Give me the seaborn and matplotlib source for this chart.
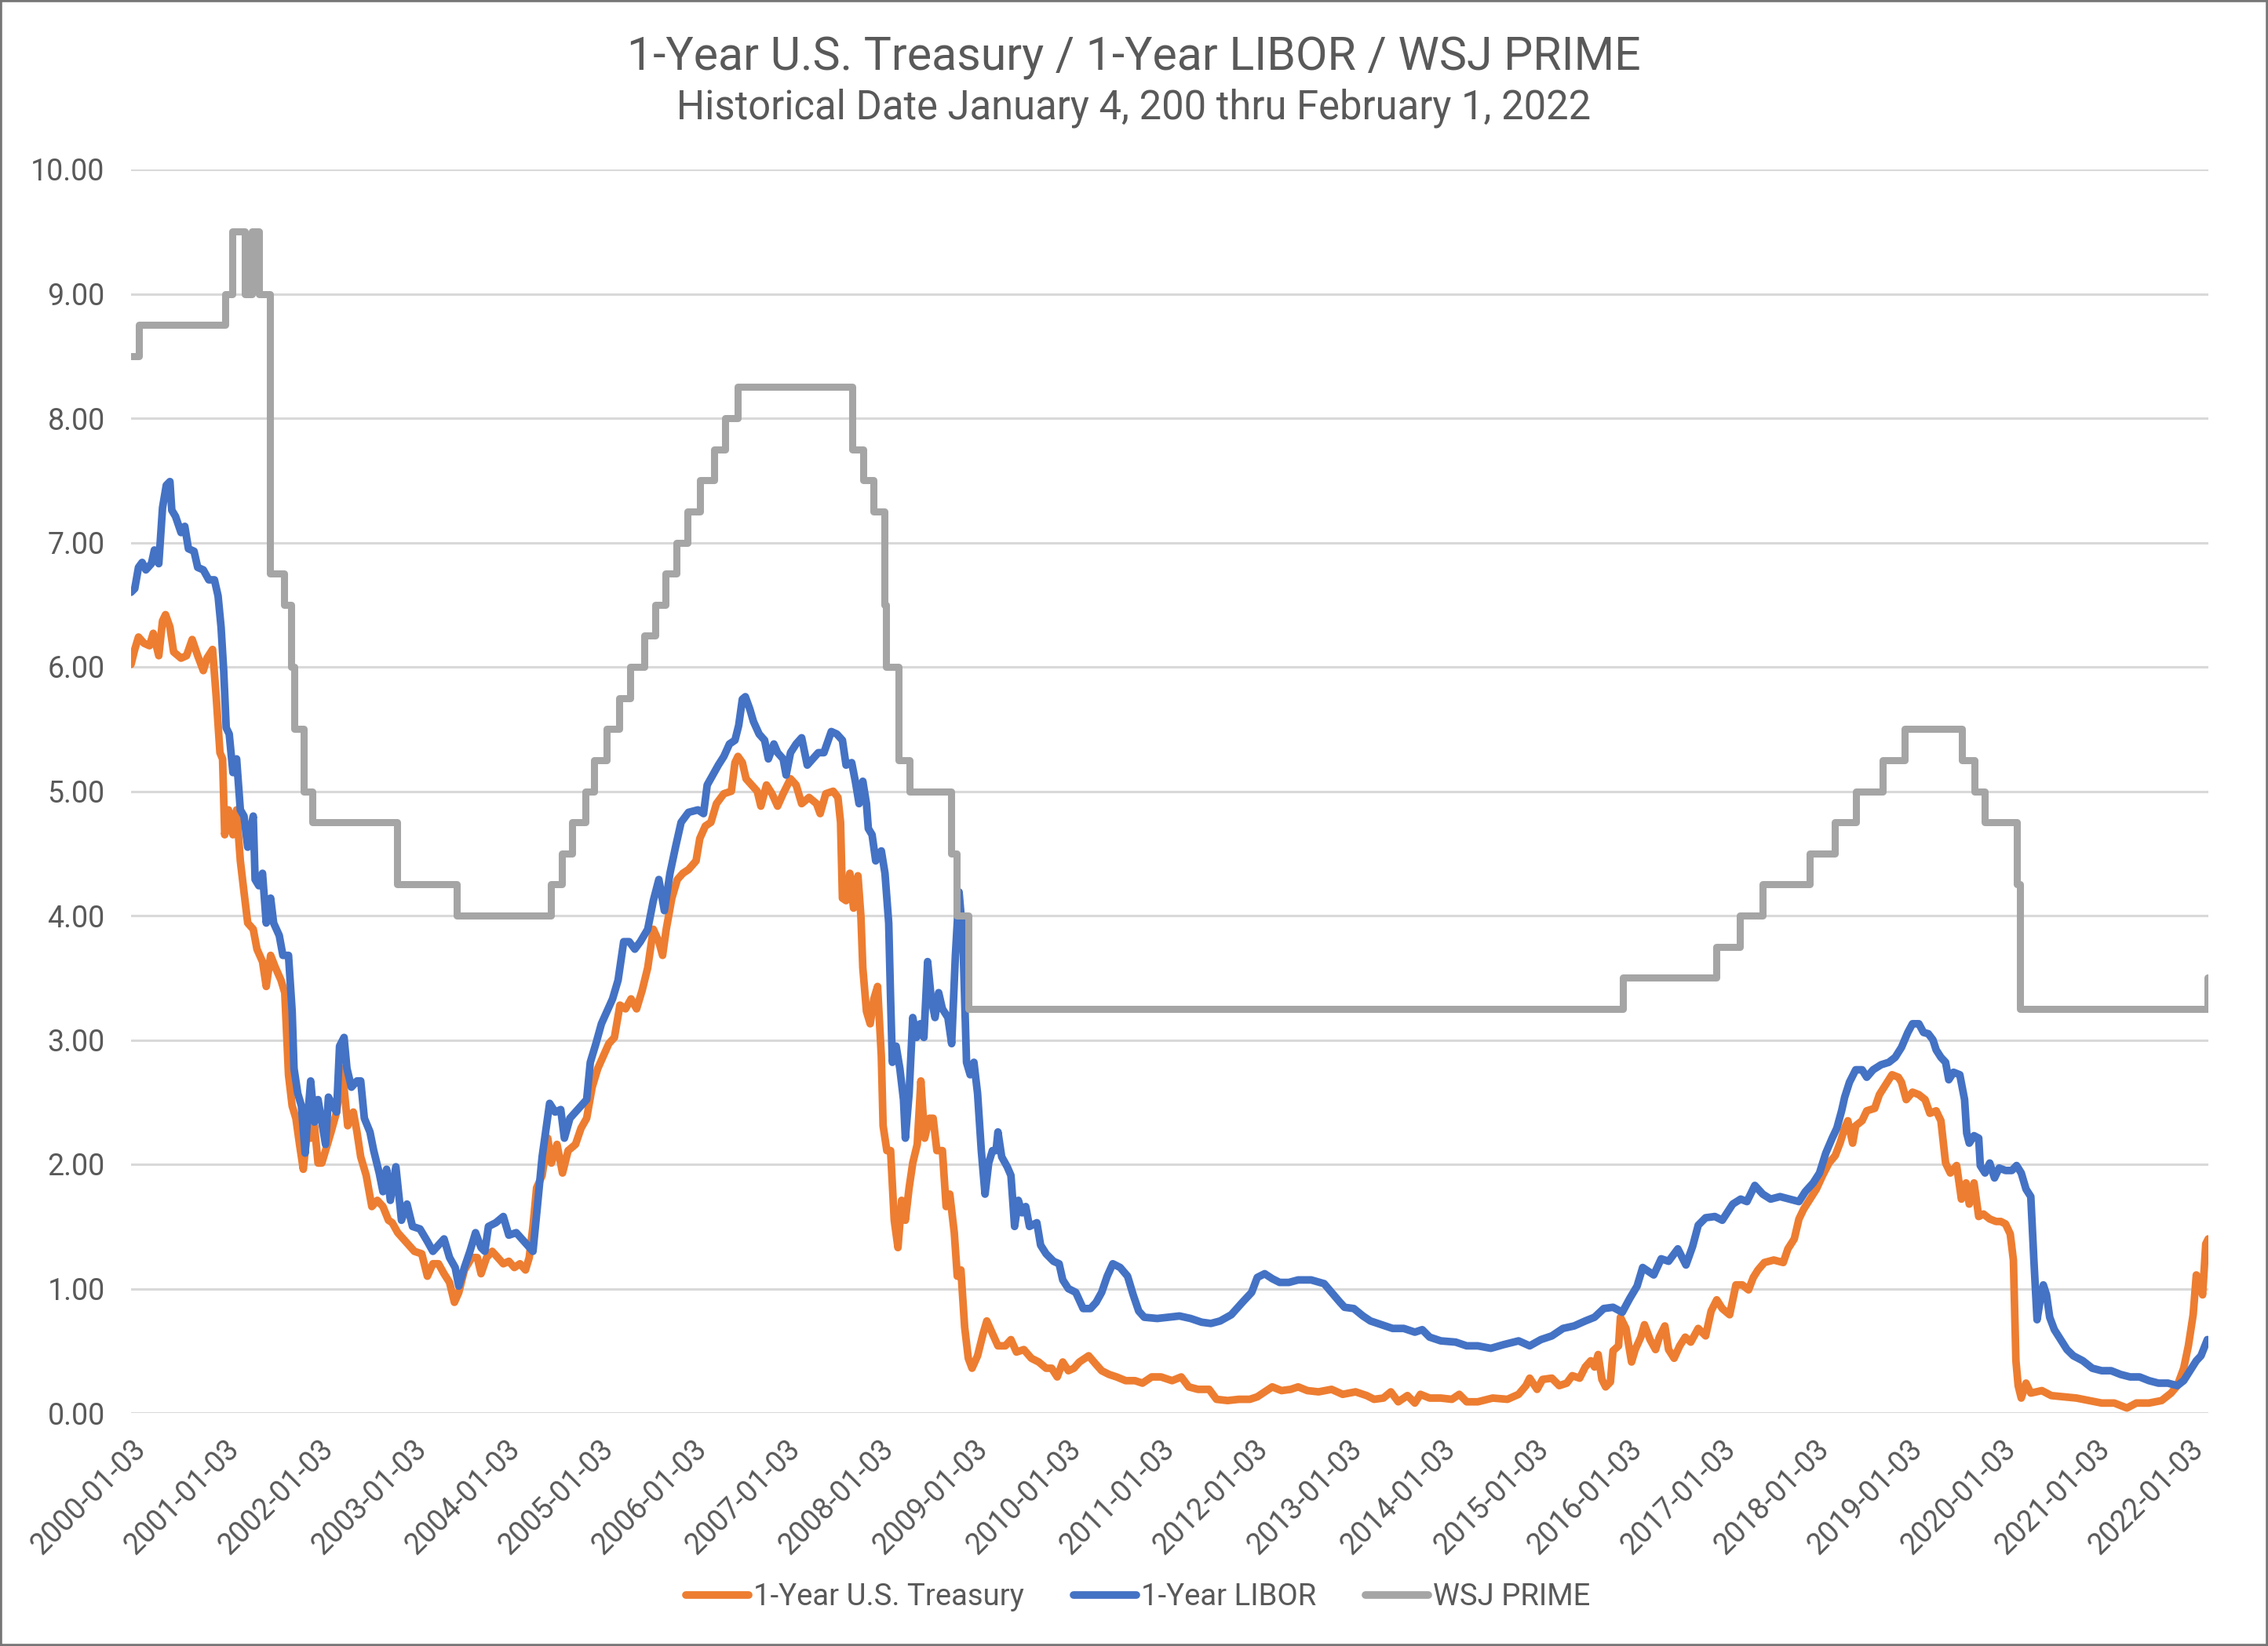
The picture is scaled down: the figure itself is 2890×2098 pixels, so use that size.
import numpy as np
import pandas as pd
import matplotlib
matplotlib.use("Agg")
import matplotlib.pyplot as plt
import seaborn as sns
from matplotlib.patches import Rectangle

TITLE = "1-Year U.S. Treasury / 1-Year LIBOR / WSJ PRIME"
SUBTITLE = "Historical Date January 4, 200 thru February 1, 2022"
SERIES_NAMES = ["1-Year U.S. Treasury", "1-Year LIBOR", "WSJ PRIME"]
SERIES_COLORS = ["#ED7D31", "#4472C4", "#A5A5A5"]
TICK_YEARS = list(range(2000, 2023))
Y_TICKS = [0, 1, 2, 3, 4, 5, 6, 7, 8, 9, 10]

# decimal years since 2000-01-01
TSY_YEARS = [
    0.005, 0.045, 0.085, 0.144, 0.203, 0.243, 0.302, 0.342, 0.374, 0.421, 0.461, 0.540, 0.599, 0.659, 0.718,
    0.778, 0.817, 0.877, 0.916, 0.956, 0.984, 1.007, 1.047, 1.095, 1.134, 1.174, 1.213, 1.253, 1.312, 1.352,
    1.411, 1.451, 1.498, 1.550, 1.609, 1.649, 1.689, 1.728, 1.768, 1.807, 1.847, 1.887, 1.926, 1.966, 2.005,
    2.045, 2.085, 2.144, 2.203, 2.263, 2.322, 2.382, 2.421, 2.461, 2.520, 2.580, 2.639, 2.699, 2.758, 2.798,
    2.857, 2.916, 2.976, 3.035, 3.114, 3.174, 3.233, 3.293, 3.352, 3.411, 3.463, 3.510, 3.570, 3.649, 3.708,
    3.748, 3.807, 3.867, 3.926, 3.986, 4.045, 4.104, 4.164, 4.223, 4.263, 4.303, 4.342, 4.401, 4.461, 4.500,
    4.560, 4.619, 4.679, 4.758, 4.817, 4.877, 4.936, 4.996, 5.055, 5.114, 5.174, 5.233, 5.293, 5.352, 5.411,
    5.471, 5.530, 5.590, 5.649, 5.689, 5.728, 5.788, 5.847, 5.906, 5.966,
    6.047, 6.087, 6.146, 6.206, 6.265, 6.344, 6.424, 6.463, 6.495, 6.542, 6.582, 6.641, 6.701, 6.740, 6.800,
    6.859, 6.919, 6.978, 7.057, 7.117, 7.176, 7.255, 7.335, 7.374, 7.434, 7.513, 7.564, 7.592, 7.612, 7.651,
    7.691, 7.731, 7.778, 7.810, 7.830, 7.869, 7.909, 7.948, 7.988, 8.028, 8.047, 8.087, 8.127, 8.166, 8.206,
    8.245, 8.285, 8.325, 8.364, 8.412, 8.451, 8.491, 8.542, 8.582, 8.622, 8.681, 8.721, 8.760, 8.808, 8.840,
    8.879, 8.919, 8.958, 8.998, 9.057, 9.117, 9.156, 9.216, 9.275, 9.354, 9.414, 9.473, 9.552, 9.632, 9.711,
    9.790, 9.849, 9.909, 9.968, 10.028, 10.087, 10.146, 10.245, 10.325, 10.384, 10.463, 10.543, 10.641, 10.740,
    10.820, 10.919, 11.018, 11.137, 11.235, 11.315, 11.414, 11.533, 11.612, 11.731, 11.850, 11.968, 12.048,
    12.208, 12.307, 12.406, 12.485, 12.584, 12.703, 12.842, 12.961, 13.099, 13.218, 13.297, 13.396, 13.476,
    13.555, 13.654, 13.733, 13.792, 13.891, 14.010, 14.129, 14.208, 14.287, 14.406, 14.565, 14.723, 14.842,
    14.921, 14.961, 15.040, 15.099, 15.198, 15.277, 15.357, 15.416, 15.495, 15.555, 15.614, 15.654, 15.693,
    15.733, 15.773, 15.824, 15.852, 15.911, 15.931, 15.990, 16.050, 16.089, 16.149, 16.188, 16.248, 16.307,
    16.347, 16.406, 16.446, 16.505, 16.565, 16.624, 16.683, 16.763, 16.842, 16.901, 16.961, 17.020, 17.099,
    17.166, 17.234, 17.301, 17.352, 17.402, 17.470, 17.571, 17.672, 17.722, 17.790, 17.840, 17.891, 17.958,
    18.026, 18.093, 18.161, 18.228, 18.279, 18.329, 18.363, 18.414, 18.447, 18.515, 18.565, 18.650, 18.700,
    18.768, 18.835, 18.903, 18.936, 18.987, 19.054, 19.122, 19.189, 19.240, 19.307, 19.358, 19.408, 19.459,
    19.526, 19.577, 19.627, 19.661, 19.712, 19.762, 19.813, 19.880, 19.948, 19.998, 20.049, 20.099, 20.133,
    20.160, 20.184, 20.217, 20.268, 20.319, 20.437, 20.538, 20.673, 20.808, 20.942, 21.077, 21.212, 21.347,
    21.448, 21.583, 21.718, 21.819, 21.886, 21.954, 22.004, 22.055, 22.089, 22.122, 22.156, 22.190, 22.217,
]
TSY_VALUES = [
    6.02, 6.14, 6.24, 6.19, 6.17, 6.27, 6.09, 6.37, 6.42, 6.32, 6.12, 6.07, 6.09, 6.22, 6.09,
    5.97, 6.07, 6.14, 5.76, 5.31, 5.26, 4.65, 4.85, 4.65, 4.85, 4.44, 4.19, 3.94, 3.89, 3.73,
    3.63, 3.43, 3.68, 3.58, 3.48, 3.38, 2.72, 2.47, 2.37, 2.16, 1.96, 2.26, 2.21, 2.31, 2.01,
    2.01, 2.11, 2.26, 2.42, 2.77, 2.31, 2.42, 2.26, 2.06, 1.91, 1.66, 1.71, 1.66, 1.55, 1.53,
    1.45, 1.40, 1.35, 1.30, 1.28, 1.10, 1.20, 1.20, 1.12, 1.05, 0.89, 0.97, 1.15, 1.25, 1.25,
    1.12, 1.25, 1.30, 1.25, 1.20, 1.22, 1.17, 1.20, 1.15, 1.25, 1.50, 1.81, 1.91, 2.21, 2.01,
    2.16, 1.93, 2.11, 2.16, 2.29, 2.37, 2.62, 2.77, 2.87, 2.97, 3.02, 3.28, 3.25, 3.33, 3.25,
    3.40, 3.58, 3.89, 3.79, 3.68, 3.89, 4.14, 4.29, 4.34, 4.37,
    4.44, 4.62, 4.72, 4.75, 4.90, 4.98, 5.00, 5.23, 5.28, 5.23, 5.10, 5.05, 5.00, 4.88, 5.05,
    4.98, 4.88, 4.98, 5.10, 5.05, 4.90, 4.95, 4.90, 4.82, 4.98, 5.00, 4.95, 4.75, 4.14, 4.12,
    4.34, 4.06, 4.32, 3.99, 3.58, 3.23, 3.13, 3.33, 3.43, 2.87, 2.31, 2.11, 2.11, 1.55, 1.33,
    1.71, 1.55, 1.81, 2.01, 2.16, 2.67, 2.21, 2.37, 2.37, 2.11, 2.11, 1.66, 1.76, 1.45, 1.10,
    1.15, 0.69, 0.44, 0.36, 0.46, 0.64, 0.74, 0.64, 0.54, 0.54, 0.59, 0.49, 0.51, 0.44, 0.41,
    0.36, 0.36, 0.29, 0.41, 0.34, 0.36, 0.41, 0.46, 0.39, 0.34, 0.31, 0.29, 0.26, 0.26,
    0.24, 0.29, 0.29, 0.26, 0.29, 0.21, 0.19, 0.19, 0.11, 0.10, 0.11, 0.11, 0.13,
    0.21, 0.18, 0.19, 0.21, 0.18, 0.17, 0.19, 0.15, 0.17, 0.14, 0.11, 0.12, 0.17,
    0.09, 0.14, 0.08, 0.15, 0.12, 0.12, 0.11, 0.15, 0.09, 0.09, 0.12, 0.11, 0.15,
    0.22, 0.28, 0.19, 0.27, 0.28, 0.22, 0.24, 0.30, 0.28, 0.37, 0.42, 0.37, 0.47,
    0.27, 0.21, 0.25, 0.50, 0.54, 0.77, 0.68, 0.41, 0.51, 0.61, 0.71, 0.59, 0.51,
    0.61, 0.70, 0.51, 0.44, 0.54, 0.61, 0.57, 0.68, 0.62, 0.82, 0.91, 0.84, 0.79,
    1.03, 1.03, 0.99, 1.09, 1.15, 1.21, 1.23, 1.21, 1.32, 1.40, 1.56, 1.64, 1.72,
    1.80, 1.91, 2.01, 2.07, 2.17, 2.29, 2.35, 2.17, 2.31, 2.35, 2.43, 2.45, 2.56,
    2.64, 2.72, 2.70, 2.66, 2.52, 2.58, 2.56, 2.52, 2.41, 2.43, 2.35, 2.01, 1.93,
    1.99, 1.72, 1.85, 1.68, 1.85, 1.58, 1.60, 1.56, 1.54, 1.54, 1.52, 1.44, 1.23,
    0.42, 0.22, 0.12, 0.24, 0.16, 0.18, 0.14, 0.13, 0.12, 0.10, 0.08, 0.08, 0.04,
    0.08, 0.08, 0.10, 0.16, 0.22, 0.36, 0.54, 0.79, 1.11, 1.07, 0.95, 1.36, 1.40,
]

LIBOR_YEARS = [
    0.005, 0.045, 0.085, 0.124, 0.164, 0.223, 0.255, 0.302, 0.342, 0.382, 0.421, 0.441, 0.481, 0.540, 0.580,
    0.619, 0.679, 0.718, 0.778, 0.837, 0.897, 0.936, 0.968, 0.996, 1.023, 1.055, 1.095, 1.134, 1.174, 1.213,
    1.253, 1.312, 1.332, 1.372, 1.411, 1.451, 1.498, 1.530, 1.590, 1.629, 1.689, 1.728, 1.748, 1.788, 1.827,
    1.867, 1.887, 1.926, 1.966, 2.005, 2.045, 2.085, 2.116, 2.164, 2.203, 2.235, 2.283, 2.314, 2.362, 2.421,
    2.461, 2.500, 2.560, 2.600, 2.659, 2.699, 2.738, 2.778, 2.837, 2.897, 2.956, 3.015, 3.095, 3.174, 3.233,
    3.293, 3.352, 3.411, 3.471, 3.510, 3.570, 3.629, 3.689, 3.748, 3.788, 3.827, 3.906, 3.986, 4.045, 4.124,
    4.184, 4.243, 4.303, 4.350, 4.401, 4.481, 4.540, 4.600, 4.639, 4.698, 4.758, 4.817, 4.877, 4.916, 4.976,
    5.035, 5.095, 5.154, 5.213, 5.273, 5.332, 5.392, 5.451, 5.530, 5.590, 5.649, 5.708, 5.768, 5.827, 5.887,
    5.966, 6.067, 6.127, 6.166, 6.226, 6.285, 6.344, 6.404, 6.463, 6.503, 6.542, 6.574, 6.622, 6.661, 6.721,
    6.780, 6.820, 6.879, 6.919, 6.978, 7.010, 7.057, 7.117, 7.176, 7.236, 7.295, 7.354, 7.414, 7.493, 7.552,
    7.612, 7.651, 7.711, 7.750, 7.790, 7.830, 7.869, 7.889, 7.929, 7.968, 8.028, 8.067, 8.107, 8.127, 8.146,
    8.186, 8.226, 8.265, 8.285, 8.325, 8.364, 8.404, 8.444, 8.483, 8.523, 8.562, 8.602, 8.641, 8.681, 8.740,
    8.780, 8.820, 8.859, 8.899, 8.919, 8.939, 8.978, 9.018, 9.057, 9.097, 9.137, 9.176, 9.216, 9.255, 9.275,
    9.315, 9.374, 9.414, 9.453, 9.493, 9.533, 9.572, 9.612, 9.691, 9.731, 9.790, 9.869, 9.929, 9.968, 10.028,
    10.107, 10.186, 10.265, 10.325, 10.384, 10.443, 10.503, 10.582, 10.661, 10.721, 10.780, 10.839, 10.978,
    11.097, 11.216, 11.335, 11.453, 11.552, 11.651, 11.770, 11.889, 11.988, 12.048, 12.127,
    12.208, 12.287, 12.386, 12.485, 12.624, 12.763, 12.842, 12.921, 12.981, 13.080, 13.178, 13.258, 13.377,
    13.495, 13.614, 13.733, 13.812, 13.891, 14.010, 14.169, 14.287, 14.406, 14.545, 14.683, 14.842, 14.961,
    15.080, 15.198, 15.317, 15.436, 15.555, 15.654, 15.753, 15.852, 15.951, 16.030, 16.109, 16.169, 16.287,
    16.367, 16.446, 16.545, 16.632, 16.703, 16.763, 16.842, 16.941, 17.020, 17.132, 17.217, 17.284, 17.368,
    17.453, 17.537, 17.638, 17.739, 17.840, 17.908, 17.992, 18.060, 18.127, 18.195, 18.245, 18.296, 18.329,
    18.380, 18.447, 18.515, 18.565, 18.633, 18.717, 18.801, 18.869, 18.936, 19.004, 19.054, 19.122, 19.172,
    19.223, 19.273, 19.307, 19.358, 19.408, 19.442, 19.493, 19.560, 19.611, 19.634, 19.661, 19.712, 19.762,
    19.779, 19.830, 19.880, 19.931, 19.981, 20.049, 20.116, 20.167, 20.217, 20.268, 20.319, 20.352, 20.386,
    20.420, 20.453, 20.487, 20.521, 20.571, 20.639, 20.706, 20.774, 20.875, 20.976, 21.077, 21.178, 21.279,
    21.381, 21.482, 21.583, 21.684, 21.785, 21.886, 21.954, 22.021, 22.089, 22.139, 22.207,
]
LIBOR_VALUES = [
    6.60, 6.63, 6.80, 6.84, 6.78, 6.83, 6.94, 6.83, 7.28, 7.46, 7.49, 7.26, 7.21, 7.08, 7.13,
    6.95, 6.93, 6.80, 6.78, 6.70, 6.70, 6.57, 6.32, 5.97, 5.51, 5.46, 5.15, 5.26, 4.85, 4.80,
    4.55, 4.80, 4.29, 4.24, 4.34, 3.94, 4.14, 3.94, 3.84, 3.68, 3.68, 3.23, 2.77, 2.57, 2.47,
    2.09, 2.31, 2.67, 2.34, 2.52, 2.34, 2.16, 2.54, 2.47, 2.42, 2.95, 3.02, 2.77, 2.62, 2.67,
    2.67, 2.37, 2.26, 2.11, 1.93, 1.78, 1.96, 1.71, 1.98, 1.55, 1.68, 1.50, 1.48, 1.38, 1.30,
    1.35, 1.40, 1.25, 1.17, 1.02, 1.17, 1.30, 1.45, 1.33, 1.30, 1.50, 1.53, 1.58, 1.43, 1.45,
    1.40, 1.35, 1.30, 1.66, 2.06, 2.49, 2.42, 2.44, 2.21, 2.37, 2.42, 2.47, 2.52, 2.82, 2.97,
    3.13, 3.23, 3.33, 3.48, 3.79, 3.79, 3.73, 3.79, 3.89, 4.12, 4.29, 4.04, 4.34, 4.55, 4.75,
    4.83, 4.85, 4.82, 5.05, 5.13, 5.21, 5.28, 5.38, 5.41, 5.53, 5.74, 5.76, 5.66, 5.56, 5.46,
    5.41, 5.26, 5.38, 5.31, 5.26, 5.13, 5.31, 5.38, 5.43, 5.21, 5.26, 5.31, 5.31, 5.48, 5.46,
    5.41, 5.21, 5.23, 5.08, 4.90, 5.08, 4.90, 4.70, 4.65, 4.44, 4.52, 4.34, 3.94, 3.33, 2.82,
    2.95, 2.77, 2.52, 2.21, 2.57, 3.18, 3.02, 3.13, 3.02, 3.63, 3.33, 3.18, 3.38, 3.25, 3.18,
    2.97, 3.68, 4.19, 3.84, 3.33, 2.82, 2.72, 2.82, 2.57, 2.11, 1.76, 2.01, 2.11, 2.11, 2.26,
    2.06, 1.98, 1.91, 1.50, 1.71, 1.61, 1.66, 1.50, 1.53, 1.35, 1.28, 1.22, 1.20, 1.07, 1.00,
    0.97, 0.84, 0.84, 0.89, 0.97, 1.10, 1.20, 1.17, 1.10, 0.95, 0.82, 0.77, 0.76,
    0.77, 0.78, 0.76, 0.73, 0.72, 0.74, 0.79, 0.89, 0.97, 1.09, 1.12,
    1.08, 1.05, 1.05, 1.07, 1.07, 1.04, 0.97, 0.90, 0.85, 0.84, 0.78, 0.74, 0.71,
    0.68, 0.68, 0.65, 0.67, 0.61, 0.58, 0.57, 0.54, 0.54, 0.52, 0.55, 0.58, 0.54,
    0.59, 0.62, 0.68, 0.70, 0.74, 0.77, 0.84, 0.85, 0.81, 0.92, 1.02, 1.17, 1.11,
    1.24, 1.22, 1.32, 1.19, 1.34, 1.51, 1.57, 1.58, 1.55, 1.68, 1.72, 1.70, 1.83,
    1.76, 1.72, 1.74, 1.72, 1.70, 1.78, 1.85, 1.93, 2.09, 2.21, 2.29, 2.43, 2.54,
    2.66, 2.76, 2.76, 2.70, 2.76, 2.80, 2.82, 2.86, 2.94, 3.06, 3.13, 3.13, 3.06,
    3.05, 3.00, 2.92, 2.86, 2.82, 2.68, 2.74, 2.72, 2.52, 2.25, 2.17, 2.23, 2.21,
    1.99, 1.93, 2.01, 1.89, 1.97, 1.95, 1.95, 1.99, 1.93, 1.80, 1.74, 1.23, 0.75,
    0.91, 1.03, 0.95, 0.77, 0.67, 0.59, 0.51, 0.46, 0.42, 0.36, 0.34, 0.34, 0.31,
    0.29, 0.29, 0.26, 0.24, 0.24, 0.22, 0.26, 0.34, 0.42, 0.46, 0.59,
]

PRIME_DATES = [
    "2000-01-03", "2000-02-02", "2001-01-04", "2001-02-01", "2001-03-23", "2001-04-18", "2001-05-16",
    "2001-06-28", "2001-08-22", "2001-09-18", "2001-10-03", "2001-11-07", "2001-12-12", "2002-11-07",
    "2003-06-27", "2004-07-01", "2004-08-11", "2004-09-22", "2004-11-11", "2004-12-15", "2005-02-03",
    "2005-03-23", "2005-05-04", "2005-07-01", "2005-08-10", "2005-09-21", "2005-11-02", "2005-12-14",
    "2006-02-01", "2006-03-29", "2006-05-11", "2006-06-30", "2007-09-19", "2007-11-01", "2007-12-12",
    "2008-01-22", "2008-01-31", "2008-03-19", "2008-05-01", "2008-10-09", "2008-10-30", "2008-12-17",
    "2015-12-17", "2016-12-15", "2017-03-16", "2017-06-15", "2017-12-14", "2018-03-22", "2018-06-14",
    "2018-09-27", "2018-12-20", "2019-08-01", "2019-09-19", "2019-10-31", "2020-03-04", "2020-03-16",
    "2022-03-17", "2022-03-21",
]
PRIME_VALUES = [
    8.50, 8.75, 9.00, 9.50, 9.00, 9.50, 9.00,
    6.75, 6.50, 6.00, 5.50, 5.00, 4.75, 4.25,
    4.00, 4.25, 4.50, 4.75, 5.00, 5.25, 5.50,
    5.75, 6.00, 6.25, 6.50, 6.75, 7.00, 7.25,
    7.50, 7.75, 8.00, 8.25, 7.75, 7.50, 7.25,
    6.50, 6.00, 5.25, 5.00, 4.50, 4.00, 3.25,
    3.50, 3.75, 4.00, 4.25, 4.50, 4.75, 5.00,
    5.25, 5.50, 5.25, 5.00, 4.75, 4.25, 3.25,
    3.50, 3.50,
]

X_START = "2000-01-03"
X_END = "2022-03-21"


def years_to_dates(years):
    base = pd.Timestamp("2000-01-01")
    return base + pd.to_timedelta(np.asarray(years) * 365.25, unit="D")


tsy = pd.DataFrame({"date": years_to_dates(TSY_YEARS), "rate": TSY_VALUES})
libor = pd.DataFrame({"date": years_to_dates(LIBOR_YEARS), "rate": LIBOR_VALUES})
prime = pd.DataFrame({"date": pd.to_datetime(PRIME_DATES), "rate": PRIME_VALUES})

sns.set_theme(style="white")
plt.rcParams["font.family"] = ["Roboto", "DejaVu Sans"]
TEXT = "#595959"

W, H = 2890, 2098
fig = plt.figure(figsize=(W / 100, H / 100), dpi=100)
ax = fig.add_axes([167 / W, 1 - 1801 / H, (2814 - 167) / W, (1801 - 216) / H])

line_kw = dict(solid_capstyle="round", solid_joinstyle="round")
sns.lineplot(data=tsy, x="date", y="rate", ax=ax, color=SERIES_COLORS[0], linewidth=7.0,
             label=SERIES_NAMES[0], estimator=None, **line_kw)
sns.lineplot(data=libor, x="date", y="rate", ax=ax, color=SERIES_COLORS[1], linewidth=7.0,
             label=SERIES_NAMES[1], estimator=None, **line_kw)
sns.lineplot(data=prime, x="date", y="rate", ax=ax, color=SERIES_COLORS[2], linewidth=6.5,
             label=SERIES_NAMES[2], estimator=None, drawstyle="steps-post", **line_kw)

ax.set_xlim(pd.Timestamp(X_START), pd.Timestamp(X_END))
ax.set_ylim(0, 10)
ax.set_yticks(Y_TICKS)
ax.set_yticklabels([f"{v:.2f}" for v in Y_TICKS])
tick_dates = [pd.Timestamp(f"{y}-01-03") for y in TICK_YEARS]
ax.set_xticks(tick_dates)
ax.set_xticklabels([d.strftime("%Y-%m-%d") for d in tick_dates])
plt.setp(ax.get_xticklabels(), rotation=45, ha="right", va="top", rotation_mode="anchor")
ax.tick_params(axis="y", length=0, pad=24, labelsize=27, labelcolor=TEXT)
ax.tick_params(axis="x", length=0, pad=20, labelsize=27, labelcolor=TEXT)
ax.set_xlabel("")
ax.set_ylabel("")
for s in ax.spines.values():
    s.set_visible(False)
ax.yaxis.grid(True, color="#D9D9D9", linewidth=2.2)
ax.xaxis.grid(False)
ax.set_axisbelow(True)

ax.get_legend().remove()
handles, labels = ax.get_legend_handles_labels()
leg = fig.legend(handles, labels, loc="center", bbox_to_anchor=(0.5017, 0.0296), ncol=3,
                 frameon=False, fontsize=27.5, handlelength=2.1, handletextpad=0.15,
                 columnspacing=1.65, labelcolor=TEXT)
for lh in leg.get_lines():
    lh.set_linewidth(7)
    lh.set_solid_capstyle("round")

fig.text(0.5, 1 - 73 / H, TITLE, ha="center", va="center", fontsize=42.5, color=TEXT)
fig.text(0.5, 1 - 138 / H, SUBTITLE, ha="center", va="center", fontsize=36.5, color=TEXT)

fig.patches.append(Rectangle((0, 0), 1, 1, transform=fig.transFigure, fill=False,
                             edgecolor="#767676", linewidth=4, zorder=10))

fig.savefig("out.png", dpi=100, facecolor="white")
